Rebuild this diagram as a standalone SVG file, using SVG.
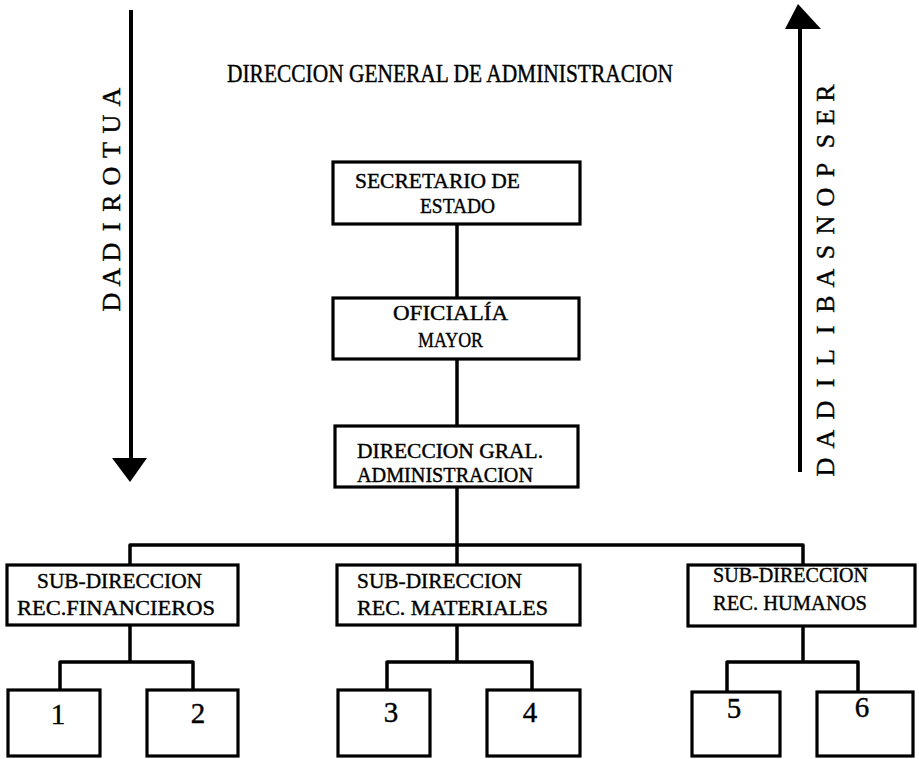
<svg xmlns="http://www.w3.org/2000/svg" width="919" height="759" viewBox="0 0 919 759">
<style>
text{font-family:"Liberation Serif","Times New Roman",serif;fill:#000;stroke:#000;stroke-width:0.4}
.box{fill:#fff;stroke:#000;stroke-width:3.2}
.lbl{font-size:22px}
.lbl2{font-size:21px}
.num{font-size:29px;text-anchor:middle}
.vert{font-size:26px;text-anchor:middle}
.con{fill:none;stroke:#000;stroke-width:3.5;stroke-linejoin:round}
.axis{fill:none;stroke:#000;stroke-width:4}
</style>
<rect width="919" height="759" fill="#fff"/>

<g id="title">
<text x="227" y="82" font-size="25" textLength="446" lengthAdjust="spacingAndGlyphs">DIRECCION GENERAL DE ADMINISTRACION</text>
</g>

<g id="autoridad">
<line class="axis" x1="131" y1="10" x2="131" y2="460"/>
<polygon points="112,458 147,458 130,482" fill="#000"/>
<g class="vert">
<text transform="translate(111,97) rotate(-90)" y="8.5">A</text>
<text transform="translate(111,124) rotate(-90)" y="8.5">U</text>
<text transform="translate(111,150) rotate(-90)" y="8.5">T</text>
<text transform="translate(111,176) rotate(-90)" y="8.5">O</text>
<text transform="translate(111,203) rotate(-90)" y="8.5">R</text>
<text transform="translate(111,227) rotate(-90)" y="8.5">I</text>
<text transform="translate(111,252) rotate(-90)" y="8.5">D</text>
<text transform="translate(111,277) rotate(-90)" y="8.5">A</text>
<text transform="translate(111,302) rotate(-90)" y="8.5">D</text>
</g>
</g>

<g id="responsabilidad">
<line class="axis" x1="800" y1="26" x2="800" y2="472"/>
<polygon points="798,4 821,29 785,29" fill="#000"/>
<g class="vert">
<text transform="translate(825,93) rotate(-90)" y="8.5">R</text>
<text transform="translate(825,117) rotate(-90)" y="8.5">E</text>
<text transform="translate(825,141) rotate(-90)" y="8.5">S</text>
<text transform="translate(825,170) rotate(-90)" y="8.5">P</text>
<text transform="translate(825,197) rotate(-90)" y="8.5">O</text>
<text transform="translate(825,225) rotate(-90)" y="8.5">N</text>
<text transform="translate(825,252) rotate(-90)" y="8.5">S</text>
<text transform="translate(825,278) rotate(-90)" y="8.5">A</text>
<text transform="translate(825,304) rotate(-90)" y="8.5">B</text>
<text transform="translate(825,330) rotate(-90)" y="8.5">I</text>
<text transform="translate(825,357) rotate(-90)" y="8.5">L</text>
<text transform="translate(825,383) rotate(-90)" y="8.5">I</text>
<text transform="translate(825,410) rotate(-90)" y="8.5">D</text>
<text transform="translate(825,439) rotate(-90)" y="8.5">A</text>
<text transform="translate(825,467) rotate(-90)" y="8.5">D</text>
</g>
</g>

<g id="connectors">
<path class="con" d="M457,224 V298"/>
<path class="con" d="M457,359 V426"/>
<path class="con" d="M457,487 V565"/>
<path class="con" d="M130,565 V545 H803 V565"/>
<path class="con" d="M130,625 V662"/>
<path class="con" d="M60,690 V662 H193 V690"/>
<path class="con" d="M457,625 V662"/>
<path class="con" d="M387,690 V662 H532 V690"/>
<path class="con" d="M803,625 V662"/>
<path class="con" d="M727,692 V662 H858 V692"/>
</g>

<g id="secretario">
<rect class="box" x="333" y="162" width="247" height="62"/>
<text class="lbl" x="355" y="188" textLength="165" lengthAdjust="spacingAndGlyphs">SECRETARIO DE</text>
<text class="lbl" x="420" y="213" textLength="75" lengthAdjust="spacingAndGlyphs">ESTADO</text>
</g>

<g id="oficialia">
<rect class="box" x="333" y="298" width="246" height="61"/>
<text class="lbl" x="393" y="320" textLength="115" lengthAdjust="spacingAndGlyphs">OFICIALÍA</text>
<text class="lbl" x="418" y="347" textLength="65" lengthAdjust="spacingAndGlyphs">MAYOR</text>
</g>

<g id="direccion">
<rect class="box" x="335" y="426" width="243" height="61"/>
<text class="lbl2" x="357" y="458" textLength="186" lengthAdjust="spacingAndGlyphs">DIRECCION GRAL.</text>
<text class="lbl2" x="357" y="482" textLength="176" lengthAdjust="spacingAndGlyphs">ADMINISTRACION</text>
</g>

<g id="sub-financieros">
<rect class="box" x="7" y="565" width="231" height="60"/>
<text class="lbl" x="37" y="588" textLength="165" lengthAdjust="spacingAndGlyphs">SUB-DIRECCION</text>
<text class="lbl" x="17" y="615" textLength="198" lengthAdjust="spacingAndGlyphs">REC.FINANCIEROS</text>
</g>

<g id="sub-materiales">
<rect class="box" x="337" y="565" width="243" height="60"/>
<text class="lbl" x="357" y="588" textLength="165" lengthAdjust="spacingAndGlyphs">SUB-DIRECCION</text>
<text class="lbl" x="357" y="615" textLength="191" lengthAdjust="spacingAndGlyphs">REC. MATERIALES</text>
</g>

<g id="sub-humanos">
<rect class="box" x="688" y="565" width="227" height="61"/>
<text class="lbl" x="713" y="582" textLength="155" lengthAdjust="spacingAndGlyphs">SUB-DIRECCION</text>
<text class="lbl" x="713" y="610" textLength="154" lengthAdjust="spacingAndGlyphs">REC. HUMANOS</text>
</g>

<g id="box1"><rect class="box" x="8" y="690" width="92" height="66"/><text class="num" x="58" y="724">1</text></g>
<g id="box2"><rect class="box" x="147" y="690" width="91" height="66"/><text class="num" x="198" y="723">2</text></g>
<g id="box3"><rect class="box" x="338" y="690" width="92" height="66"/><text class="num" x="391" y="722">3</text></g>
<g id="box4"><rect class="box" x="487" y="690" width="93" height="66"/><text class="num" x="530" y="722">4</text></g>
<g id="box5"><rect class="box" x="692" y="692" width="88" height="64"/><text class="num" x="734" y="718">5</text></g>
<g id="box6"><rect class="box" x="817" y="692" width="96" height="64"/><text class="num" x="862" y="717">6</text></g>
</svg>
